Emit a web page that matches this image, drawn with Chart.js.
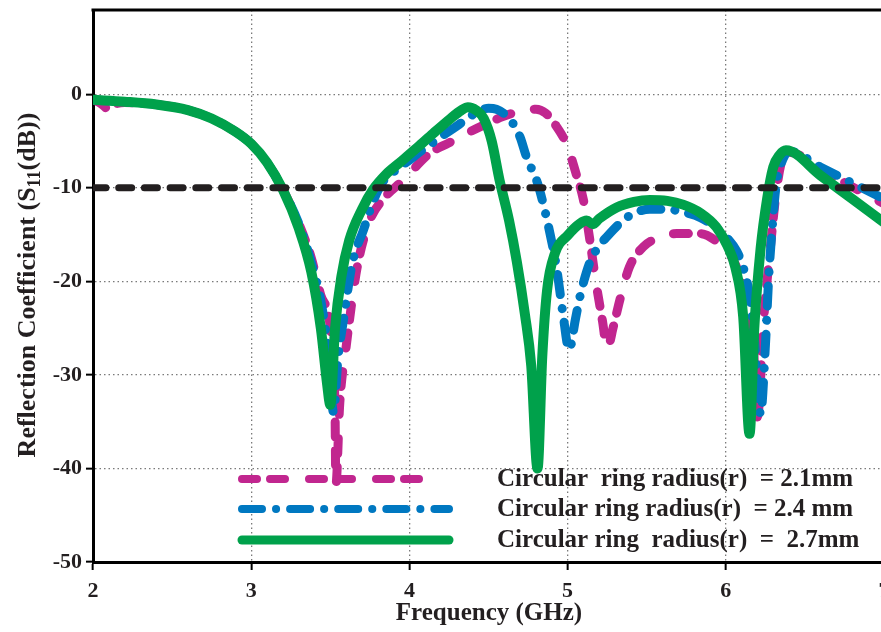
<!DOCTYPE html>
<html>
<head>
<meta charset="utf-8">
<script src="https://cdn.jsdelivr.net/npm/chart.js@4.4.1/dist/chart.umd.min.js"></script>
<style>
  html, body { margin: 0; padding: 0; background: #fff; overflow: hidden; }
  #wrap { width: 888px; height: 632px; }
</style>
</head>
<body>
<div id="wrap"><canvas id="c" width="888" height="632"></canvas></div>
<script>
// ---------- DATA ----------
const xTicks = [2, 3, 4, 5, 6, 7];
const yTicks = [-50, -40, -30, -20, -10, 0];
const threshold = -10;

const legendLabels = [
  "Circular  ring radius(r)  = 2.1mm",
  "Circular ring radius(r)  = 2.4 mm",
  "Circular ring  radius(r)  =  2.7mm"
];

// r = 2.1 mm (magenta, dashed)
const f21 = [2.0, 2.05, 2.09, 2.13, 2.2, 2.4, 2.6, 2.75, 2.9, 3.0, 3.1, 3.2, 3.3, 3.38, 3.44, 3.5, 3.53, 3.535, 3.56, 3.6, 3.67, 3.75, 3.83, 3.96, 4.13, 4.25, 4.36, 4.47, 4.59, 4.7, 4.8, 4.86, 4.92, 5.0, 5.05, 5.1, 5.14, 5.18, 5.22, 5.25, 5.29, 5.33, 5.39, 5.48, 5.58, 5.69, 5.84, 5.96, 6.04, 6.09, 6.14, 6.17, 6.2, 6.24, 6.28, 6.32, 6.36, 6.4, 6.6, 6.8, 7.0];
const s21 = [-0.6, -1.0, -1.5, -1.1, -0.9, -1.1, -1.7, -2.6, -4.0, -5.3, -7.3, -10.2, -13.8, -17.5, -21.5, -25, -34, -41.8, -33, -27, -18.5, -13.5, -11.3, -9.2, -6.3, -5.2, -4.2, -3.3, -2.4, -1.8, -1.6, -2.0, -3.2, -5.6, -8.3, -11.3, -15.5, -20.2, -24.2, -27.2, -24.8, -22, -18.5, -16.3, -15.3, -14.9, -14.9, -16, -17.5, -19.5, -23, -25.5, -34.5, -24, -16.7, -10.3, -6.8, -6.2, -8.0, -9.9, -11.7];

// r = 2.4 mm (blue, dash-dot)
const f24 = [2.0, 2.2, 2.4, 2.6, 2.75, 2.9, 3.0, 3.1, 3.2, 3.3, 3.38, 3.45, 3.49, 3.52, 3.55, 3.58, 3.64, 3.71, 3.77, 3.83, 3.9, 3.98, 4.08, 4.17, 4.3, 4.4, 4.5, 4.55, 4.6, 4.65, 4.7, 4.74, 4.81, 4.85, 4.89, 4.93, 4.97, 5.01, 5.05, 5.08, 5.14, 5.2, 5.25, 5.33, 5.41, 5.52, 5.63, 5.73, 5.84, 5.94, 6.01, 6.07, 6.11, 6.15, 6.18, 6.22, 6.25, 6.27, 6.29, 6.32, 6.36, 6.4, 6.6, 6.8, 7.0];
const s24 = [-0.6, -0.8, -1.1, -1.7, -2.6, -4.0, -5.3, -7.3, -10.2, -13.8, -18, -23, -28, -34, -28, -24.5, -18, -14.5, -11.5, -9.4, -8.3, -7.3, -6.0, -4.9, -3.4, -2.2, -1.5, -1.6, -2.1, -3.0, -4.6, -6.7, -9.5, -12, -15, -18.5, -23.4, -27.3, -24, -21.5, -18, -16.2, -15.2, -13.8, -12.8, -12.3, -12.3, -12.6, -13.2, -14.3, -15.4, -16.8, -18.5, -21.5, -26, -34.2, -27, -20, -15, -9.5, -7.0, -6.1, -7.8, -9.5, -11.2];

// r = 2.7 mm (green, solid)
const f27 = [2.0, 2.2, 2.4, 2.6, 2.75, 2.9, 3.0, 3.1, 3.2, 3.3, 3.38, 3.44, 3.48, 3.5, 3.53, 3.57, 3.62, 3.7, 3.77, 3.85, 3.94, 4.05, 4.15, 4.26, 4.33, 4.37, 4.42, 4.47, 4.52, 4.57, 4.63, 4.68, 4.73, 4.77, 4.81, 4.84, 4.87, 4.92, 5.0, 5.08, 5.12, 5.16, 5.2, 5.31, 5.42, 5.52, 5.63, 5.73, 5.84, 5.94, 6.01, 6.06, 6.11, 6.15, 6.18, 6.22, 6.26, 6.3, 6.34, 6.38, 6.6, 6.8, 7.0];
const s27 = [-0.6, -0.8, -1.1, -1.7, -2.6, -4.0, -5.3, -7.3, -10.2, -14.3, -19, -25, -31, -33.2, -25, -19.5, -15.6, -12.3, -10.2, -8.6, -7.3, -5.7, -4.2, -2.6, -1.7, -1.4, -1.7, -2.6, -5.0, -9.2, -13.5, -18, -23.5, -29, -40, -28, -21, -17, -15.1, -13.8, -13.5, -13.9, -13.3, -12.1, -11.5, -11.3, -11.4, -11.8, -12.7, -14.2, -16.2, -18.5, -23.8, -36.3, -25, -16.5, -11.3, -7.8, -6.5, -6.0, -8.7, -11.2, -13.7];

// ---------- STYLE ----------
const SERIF = '"Liberation Serif", "Times New Roman", serif';
const TXT = '#231f20';
const MAGENTA = '#c1268f';
const BLUE = '#0078c1';
const GREEN = '#00a14b';
const dashMag = [15, 13, 15, 24];
const dashBlue = [20, 14, 0.1, 14];
const dashBlack = [13, 12.7];

const pts = (xs, ys) => xs.map((x, i) => ({ x: x, y: ys[i] }));

const styles = [
  { color: MAGENTA, width: 8, dash: dashMag },
  { color: BLUE, width: 8, dash: dashBlue },
  { color: GREEN, width: 9, dash: [] }
];

function noPad(s) { s.paddingTop = 0; s.paddingBottom = 0; s.paddingLeft = 0; s.paddingRight = 0; }

const overlay = {
  id: 'overlay',
  afterDraw(chart) {
    const ctx = chart.ctx;
    const a = chart.chartArea;
    ctx.save();
    // top border
    ctx.strokeStyle = '#000';
    ctx.lineWidth = 3;
    ctx.beginPath();
    ctx.moveTo(a.left - 1.5, a.top);
    ctx.lineTo(a.right + 2, a.top);
    ctx.stroke();

    // legend
    const rows = [479, 509, 540];
    const ends = [425, 449, 449];
    for (let i = 0; i < 3; i++) {
      const s = styles[i];
      ctx.strokeStyle = s.color;
      ctx.lineWidth = s.width;
      ctx.lineCap = 'round';
      ctx.setLineDash(s.dash);
      ctx.beginPath();
      ctx.moveTo(242, rows[i]);
      ctx.lineTo(ends[i], rows[i]);
      ctx.stroke();
    }
    ctx.setLineDash([]);
    ctx.fillStyle = TXT;
    ctx.font = 'bold 25px ' + SERIF;
    ctx.textBaseline = 'middle';
    ctx.textAlign = 'left';
    for (let i = 0; i < 3; i++) {
      ctx.fillText(legendLabels[i], 497, rows[i] + 1);
    }

    // x title
    ctx.font = 'bold 25px ' + SERIF;
    ctx.textAlign = 'center';
    ctx.fillText('Frequency (GHz)', 489, 614);

    // y title with subscript
    ctx.translate(26, 285);
    ctx.rotate(-Math.PI / 2);
    const big = 'bold 26px ' + SERIF;
    const small = 'bold 18px ' + SERIF;
    const p1 = 'Reflection Coefficient (S';
    const p2 = '11';
    const p3 = '(dB))';
    ctx.font = big; const w1 = ctx.measureText(p1).width; const w3 = ctx.measureText(p3).width;
    ctx.font = small; const w2 = ctx.measureText(p2).width;
    let x0 = -(w1 + w2 + w3) / 2;
    ctx.textAlign = 'left';
    ctx.textBaseline = 'alphabetic';
    ctx.font = big; ctx.fillText(p1, x0, 9);
    ctx.font = small; ctx.fillText(p2, x0 + w1, 14);
    ctx.font = big; ctx.fillText(p3, x0 + w1 + w2, 9);
    ctx.restore();
  }
};

new Chart(document.getElementById('c'), {
  type: 'line',
  data: {
    datasets: [
      { label: 'threshold', data: [{ x: xTicks[0], y: threshold }, { x: xTicks[xTicks.length - 1], y: threshold }],
        borderColor: '#231f20', borderWidth: 7, borderDash: dashBlack, borderCapStyle: 'round', pointRadius: 0, order: 0 },
      { label: legendLabels[2], data: pts(f27, s27), borderColor: GREEN, borderWidth: 10, pointRadius: 0,
        cubicInterpolationMode: 'monotone', borderJoinStyle: 'round', borderCapStyle: 'round', order: 1 },
      { label: legendLabels[1], data: pts(f24, s24), borderColor: BLUE, borderWidth: 9, borderDash: dashBlue, pointRadius: 0,
        cubicInterpolationMode: 'monotone', borderJoinStyle: 'round', borderCapStyle: 'round', order: 2 },
      { label: legendLabels[0], data: pts(f21, s21), borderColor: MAGENTA, borderWidth: 9, borderDash: dashMag, pointRadius: 0,
        cubicInterpolationMode: 'monotone', borderJoinStyle: 'round', borderCapStyle: 'round', order: 3 }
    ]
  },
  options: {
    responsive: false,
    animation: false,
    events: [],
    layout: { padding: { left: 0, top: 10, right: 4, bottom: 0 } },
    plugins: { legend: { display: false }, tooltip: { enabled: false }, title: { display: false } },
    scales: {
      x: {
        type: 'linear', min: 2, max: 7,
        afterFit(s) { s.height = 70; noPad(s); },
        afterBuildTicks(s) { s.ticks = xTicks.map(v => ({ value: v })); },
        ticks: { color: TXT, font: { family: SERIF, size: 22, weight: 'bold' }, padding: 8, maxRotation: 0,
                 callback: v => String(v) },
        grid: { color: '#7a7a7a', lineWidth: 1.3, drawTicks: true, tickLength: 8, tickColor: '#000', tickWidth: 2, tickBorderDash: [] },
        border: { display: true, color: '#000', width: 3, dash: [1.5, 3] }
      },
      y: {
        type: 'linear', min: -50, max: 9,
        afterFit(s) { s.width = 93; noPad(s); },
        afterBuildTicks(s) { s.ticks = yTicks.map(v => ({ value: v })); },
        ticks: { color: TXT, font: { family: SERIF, size: 22, weight: 'bold' }, padding: 4,
                 callback: v => String(v) },
        grid: { color: '#7a7a7a', lineWidth: 1.3, drawTicks: true, tickLength: 7, tickColor: '#000', tickWidth: 2, tickBorderDash: [] },
        border: { display: true, color: '#000', width: 3, dash: [1.5, 3] }
      }
    }
  },
  plugins: [overlay]
});
</script>
</body>
</html>
